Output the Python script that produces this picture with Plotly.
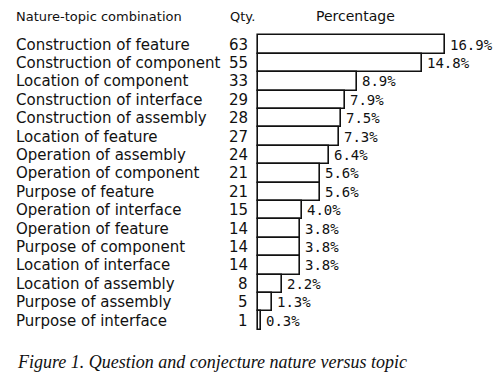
import plotly.graph_objects as go

categories = [
    "Construction of feature", "Construction of component", "Location of component",
    "Construction of interface", "Construction of assembly", "Location of feature",
    "Operation of assembly", "Operation of component", "Purpose of feature",
    "Operation of interface", "Operation of feature", "Purpose of component",
    "Location of interface", "Location of assembly", "Purpose of assembly",
    "Purpose of interface",
]
qty = [63, 55, 33, 29, 28, 27, 24, 21, 21, 15, 14, 14, 14, 8, 5, 1]
pct = [16.9, 14.8, 8.9, 7.9, 7.5, 7.3, 6.4, 5.6, 5.6, 4.0, 3.8, 3.8, 3.8, 2.2, 1.3, 0.3]
pct_labels = ["%.1f%%" % p for p in pct]

W, H = 499, 378
L, R, T, B = 256, 19, 33, 46
pw, ph = W - L - R, H - T - B
scale = 11.07  # px per percent
x0 = -(258 - L) / scale
x1 = x0 + pw / scale

def px_x(x):
    return (x - L) / pw

def px_y(y):
    return (H - B - y) / ph

idx = list(range(len(categories)))
n = len(categories)
row = 18.4
pad = 2 / row
LABEL_FONT = dict(family="DejaVu Sans", size=15, color="#111")

fig = go.Figure(go.Bar(
    x=pct, y=idx, orientation="h",
    marker=dict(color="white", line=dict(color="#111", width=1.6)),
    width=1.0, hoverinfo="skip",
))

ann = []
for i, c in enumerate(categories):
    ann.append(dict(x=px_x(14), xref="paper", y=i, yref="y", text=c, showarrow=False,
                    xanchor="left", yanchor="middle", font=LABEL_FONT))
    ann.append(dict(x=px_x(250), xref="paper", y=i, yref="y", text=str(qty[i]), showarrow=False,
                    xanchor="right", yanchor="middle", font=LABEL_FONT))
    ann.append(dict(x=pct[i], xref="x", y=i, yref="y", text=pct_labels[i], showarrow=False,
                    xanchor="left", yanchor="middle", xshift=3,
                    font=dict(family="DejaVu Sans Mono", size=14, color="#111")))

hdr_font = dict(family="DejaVu Sans", size=13, color="#111")
ann.append(dict(x=px_x(14), xref="paper", y=px_y(16), yref="paper", text="Nature-topic combination",
                showarrow=False, xanchor="left", yanchor="middle", font=hdr_font))
ann.append(dict(x=px_x(228), xref="paper", y=px_y(16), yref="paper", text="Qty.",
                showarrow=False, xanchor="left", yanchor="middle", font=hdr_font))
ann.append(dict(x=px_x(355), xref="paper", y=px_y(16), yref="paper", text="Percentage",
                showarrow=False, xanchor="center", yanchor="middle",
                font=dict(family="DejaVu Sans", size=14, color="#111")))
ann.append(dict(x=px_x(15), xref="paper", y=px_y(362), yref="paper",
                text="<i>Figure 1. Question and conjecture nature versus topic</i>",
                showarrow=False, xanchor="left", yanchor="middle",
                font=dict(family="Liberation Serif", size=18, color="#111")))

fig.update_layout(
    width=W, height=H,
    margin=dict(l=L, r=R, t=T, b=B),
    paper_bgcolor="white", plot_bgcolor="white",
    showlegend=False, bargap=0,
    xaxis=dict(range=[x0, x1], visible=False, fixedrange=True),
    yaxis=dict(range=[n - 0.5 + (ph - n * row) / row / 2, -0.5 - (ph - n * row) / row / 2],
               visible=False, fixedrange=True),
    annotations=ann,
)

fig.write_html("out.html")
